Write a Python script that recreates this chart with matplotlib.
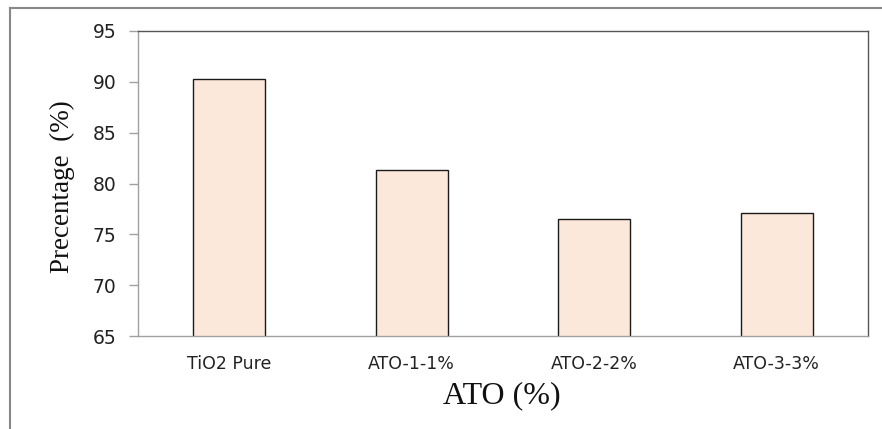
import matplotlib
matplotlib.use("Agg")
import matplotlib.pyplot as plt
from matplotlib.lines import Line2D

categories = ["TiO2 Pure", "ATO-1-1%", "ATO-2-2%", "ATO-3-3%"]
values = [90.3, 81.3, 76.5, 77.1]
yticks = [65, 70, 75, 80, 85, 90, 95]

fig = plt.figure(figsize=(8.82, 4.29), dpi=100)
ax = fig.add_axes([138/882, 1-336/429, (868-138)/882, (336-31)/429])

x = list(range(len(categories)))
ax.bar(x, values, width=0.395, color="#FCE8DA", edgecolor="#1a1a1a", linewidth=1.0, zorder=2)

ax.set_xlim(-0.5, len(categories) - 0.5)
ax.set_ylim(65, 95)
ax.set_yticks(yticks)
ax.set_yticklabels([str(v) for v in yticks], fontsize=13.5, color="#222222", family="DejaVu Sans")
ax.set_xticks(x)
ax.set_xticklabels(categories, fontsize=12.5, color="#222222", family="DejaVu Sans")
ax.tick_params(axis="x", length=0, pad=14)
ax.tick_params(axis="y", length=6.5, width=1, color="#A0A0A0", pad=9, direction="out")

for s in ["left", "bottom"]:
    ax.spines[s].set_color("#A0A0A0")
    ax.spines[s].set_linewidth(1.0)
for s in ["top", "right"]:
    ax.spines[s].set_color("#555555")
    ax.spines[s].set_linewidth(1.0)

ax.set_ylabel("Precentage  (%)", fontsize=19.5, family="Liberation Serif", color="#111111")
ax.yaxis.set_label_coords(-0.086, 0.49)
ax.set_xlabel("ATO (%)", fontsize=23, family="Liberation Serif", color="#111111")
ax.xaxis.set_label_coords(0.498, -0.148)

# outer frame (partially visible)
fig.add_artist(Line2D([10/882, 10/882], [0, 1-8/429], transform=fig.transFigure, color="#888888", linewidth=1.5))
fig.add_artist(Line2D([10/882, 1], [1-8/429, 1-8/429], transform=fig.transFigure, color="#888888", linewidth=1.5))

fig.savefig("out.png", dpi=100)
